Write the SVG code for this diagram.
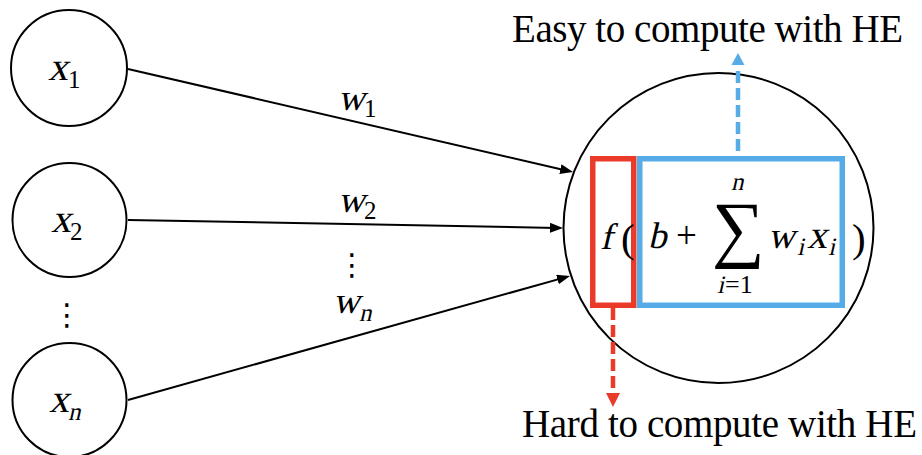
<svg xmlns="http://www.w3.org/2000/svg" width="922" height="455" viewBox="0 0 922 455">
<defs>
<style>
.node{fill:#fff;stroke:#000;stroke-width:2}
.edge{fill:none;stroke:#000;stroke-width:2}
.t{font-family:"Liberation Serif","Times New Roman",serif;fill:#000}
.m{font-family:"Liberation Serif","Times New Roman",serif;font-size:37px;fill:#000}
.big{font-size:40px}
.s{font-size:25px}
.dots{font-family:"DejaVu Sans",sans-serif;font-size:30px;fill:#000}
.red{stroke:#EA3B2A;fill:none;stroke-width:5.5}
.blue{stroke:#55ACE6;fill:none;stroke-width:5.5}
.dash{stroke-width:4.5;stroke-dasharray:12 5;fill:none}
</style>
<marker id="ah" markerUnits="userSpaceOnUse" markerWidth="14" markerHeight="12" refX="7" refY="5" orient="auto">
<path d="M0,0 L13,5 L0,10 z" fill="#000"/>
</marker>
</defs>
<rect width="922" height="455" fill="#fff"/>

<g id="x1">
<circle class="node" cx="69" cy="68" r="58"/>
<text class="m big" transform="translate(48,80) skewX(-13)">x</text>
<text class="m s" x="68" y="88">1</text>
</g>
<g id="x2">
<circle class="node" cx="69.5" cy="220" r="57"/>
<text class="m big" transform="translate(51,232) skewX(-13)">x</text>
<text class="m s" x="70" y="240">2</text>
</g>
<text class="dots" x="67" y="325" text-anchor="middle">⋮</text>
<g id="xn">
<circle class="node" cx="69.5" cy="400" r="57"/>
<text class="m big" transform="translate(49,412) skewX(-13)">x</text>
<text class="m s" transform="translate(68,420) skewX(-13)">n</text>
</g>

<g id="neuron">
<circle class="node" cx="718.5" cy="228" r="155"/>
<rect class="blue" x="639.75" y="158.75" width="202.5" height="146.5"/>
<rect class="red" x="592.75" y="158.75" width="41" height="146.5"/>
<text class="m" transform="translate(600,249) skewX(-13)">f</text>
<text class="m" x="621" y="252" style="font-size:41px">(</text>
<text class="m" transform="translate(648,248) skewX(-13)">b</text>
<text class="m" x="676" y="248">+</text>
<text class="t" x="712" y="253" style="font-size:74px">∑</text>
<text class="m s" transform="translate(731,190) skewX(-13)">n</text>
<text class="m s" transform="translate(717,293) skewX(-13)">i</text>
<text class="m s" x="725" y="293" style="font-size:26px">=1</text>
<text class="m" transform="translate(768,248) skewX(-13)">w</text>
<text class="m s" transform="translate(797,255) skewX(-13)">i</text>
<text class="m big" transform="translate(807,248) skewX(-13)">x</text>
<text class="m s" transform="translate(828,255) skewX(-13)">i</text>
<text class="m" x="852" y="252" style="font-size:41px">)</text>
</g>

<g id="connectors">
<path class="edge" d="M128,69 L567.2,170.7" marker-end="url(#ah)"/>
<path class="edge" d="M128,220 L557,227.9" marker-end="url(#ah)"/>
<path class="edge" d="M128,400 L564.2,277.6" marker-end="url(#ah)"/>
<text class="m" transform="translate(338,110) skewX(-13)">w</text>
<text class="m s" x="364" y="117">1</text>
<text class="m" transform="translate(338,212) skewX(-13)">w</text>
<text class="m s" x="364" y="219">2</text>
<text class="m" transform="translate(333,313) skewX(-13)">w</text>
<text class="m s" transform="translate(359,321) skewX(-13)">n</text>
<text class="dots" x="352" y="275" text-anchor="middle">⋮</text>
<path class="dash" stroke="#55ACE6" d="M738,71 L738,156"/>
<polygon points="738,53 744.5,65 731.5,65" fill="#55ACE6"/>
<path class="dash" stroke="#EA3B2A" d="M613,308 L613,388"/>
<polygon points="613,407 620,393 606,393" fill="#EA3B2A"/>
</g>

<g id="labels">
<text class="t" x="512" y="42" font-size="39" textLength="391">Easy to compute with HE</text>
<text class="t" x="522" y="437" font-size="39" textLength="395">Hard to compute with HE</text>
</g>
</svg>
